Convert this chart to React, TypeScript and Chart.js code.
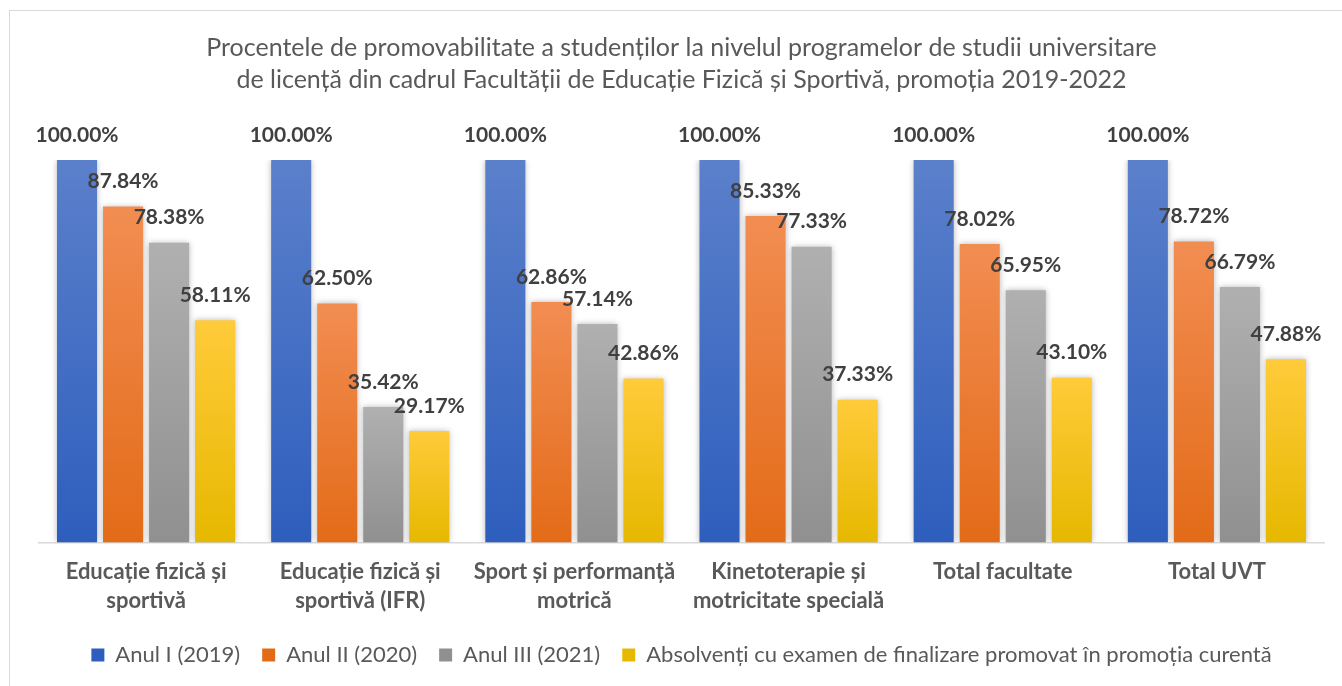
import React, { useEffect, useRef } from 'react';
import { Chart, registerables } from 'chart.js';

Chart.register(...registerables);

const categories: (string | string[])[] = [
  ['Educație fizică și', 'sportivă'],
  ['Educație fizică și', 'sportivă (IFR)'],
  ['Sport și performanță', 'motrică'],
  ['Kinetoterapie și', 'motricitate specială'],
  'Total facultate',
  'Total UVT',
];
const anulI = [100, 100, 100, 100, 100, 100];
const anulII = [87.84, 62.5, 62.86, 85.33, 78.02, 78.72];
const anulIII = [78.38, 35.42, 57.14, 77.33, 65.95, 66.79];
const absolventi = [58.11, 29.17, 42.86, 37.33, 43.1, 47.88];
const seriesNames = [
  'Anul I (2019)',
  'Anul II (2020)',
  'Anul III (2021)',
  'Absolvenți cu examen de finalizare promovat în promoția curentă',
];
const titleLines = [
  'Procentele de promovabilitate a studenților la nivelul programelor de studii universitare',
  'de licență din cadrul Facultății de Educație Fizică și Sportivă, promoția 2019-2022',
];

const FONT = 'Lato';

function grad(top: string, bottom: string, legend: string) {
  return (c: any) => {
    const chart = c.chart;
    const area = chart.chartArea;
    if (!area || c.type !== 'data' || c.raw == null) return legend;
    const y = chart.scales.y;
    const y0 = y.getPixelForValue(0);
    const y1 = y.getPixelForValue(c.raw);
    if (!isFinite(y0) || !isFinite(y1) || y0 === y1) return bottom;
    const g = chart.ctx.createLinearGradient(0, y1, 0, y0);
    g.addColorStop(0, top);
    g.addColorStop(1, bottom);
    return g;
  };
}

const shadowPlugin = {
  id: 'barShadow',
  beforeDatasetsDraw(chart: any) {
    const ctx = chart.ctx;
    ctx.save();
    ctx.shadowColor = 'rgba(0,0,0,0.28)';
    ctx.shadowBlur = 6;
    ctx.shadowOffsetX = 0;
    ctx.shadowOffsetY = 0;
  },
  afterDatasetsDraw(chart: any) {
    chart.ctx.restore();
  },
};

const labelPlugin = {
  id: 'valueLabels',
  afterDraw(chart: any) {
    const ctx = chart.ctx;
    ctx.save();
    ctx.font = `bold 21px ${FONT}`;
    ctx.fillStyle = '#404040';
    ctx.textAlign = 'center';
    ctx.textBaseline = 'middle';
    chart.data.datasets.forEach((ds: any, i: number) => {
      const meta = chart.getDatasetMeta(i);
      meta.data.forEach((bar: any, j: number) => {
        const v = ds.data[j];
        ctx.fillText(v.toFixed(2) + '%', bar.x, bar.y - 25);
      });
    });
    ctx.restore();
  },
};

export default function App() {
  const ref = useRef<HTMLCanvasElement>(null);
  useEffect(() => {
    const canvas = ref.current!;
    const chart = new Chart(canvas, {
      type: 'bar',
      data: {
        labels: categories,
        datasets: [
          { label: seriesNames[0], data: anulI, backgroundColor: grad('#5b80cb', '#2e5ebd', '#4a72c6'), borderWidth: 0 },
          { label: seriesNames[1], data: anulII, backgroundColor: grad('#f28d52', '#e36b18', '#ee7d36'), borderWidth: 0 },
          { label: seriesNames[2], data: anulIII, backgroundColor: grad('#b0b0b0', '#909090', '#a3a3a3'), borderWidth: 0 },
          { label: seriesNames[3], data: absolventi, backgroundColor: grad('#ffcb3a', '#e6b800', '#f5c10e'), borderWidth: 0 },
        ],
      },
      options: {
        animation: false,
        responsive: false,
        maintainAspectRatio: false,
        layout: { padding: { left: 39, right: 18, top: 32, bottom: 10 } },
        datasets: { bar: { categoryPercentage: 0.86, barPercentage: 0.87 } },
        scales: {
          x: {
            grid: { display: false, drawTicks: false },
            border: { display: true, color: '#d9d9d9', width: 1.5 },
            ticks: {
              color: '#595959',
              font: { family: FONT, size: 22, weight: 'bold', lineHeight: 1.33 },
              padding: 15,
              maxRotation: 0,
              autoSkip: false,
            },
            afterFit: (axis: any) => {
              axis.height = axis.height - 9;
            },
          },
          y: { display: false, min: 0, max: 100 },
        },
        plugins: {
          title: {
            display: true,
            text: titleLines,
            color: '#595959',
            font: { family: FONT, size: 25, weight: 'normal', lineHeight: 1.28 },
            padding: { top: 0, bottom: 64 },
          },
          legend: {
            position: 'bottom',
            labels: {
              color: '#595959',
              font: { family: FONT, size: 22 },
              boxWidth: 13,
              boxHeight: 13,
              padding: 22,
            },
          },
          tooltip: { enabled: false },
        },
      },
      plugins: [shadowPlugin, labelPlugin],
    } as any);
    return () => chart.destroy();
  }, []);
  return (
    <div style={{ position: 'fixed', left: 0, top: 0, width: 1342, height: 686, background: '#fff' }}>
      <div style={{ position: 'absolute', left: 9, top: 10, width: 1400, height: 700, borderLeft: '1px solid #d9d9d9', borderTop: '1px solid #d9d9d9' }} />
      <canvas ref={ref} width={1342} height={686} style={{ position: 'absolute', left: 0, top: 0, width: 1342, height: 686 }} />
    </div>
  );
}
